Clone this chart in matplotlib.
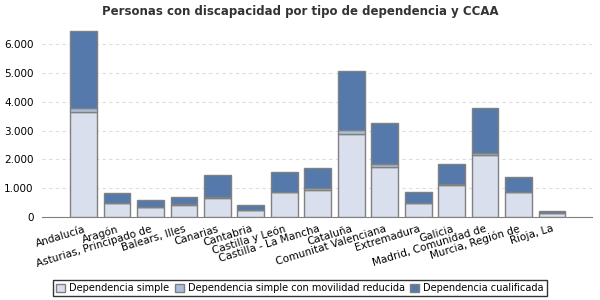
import numpy as np
import matplotlib.pyplot as plt
from matplotlib.ticker import FuncFormatter

ccaa = ["Andalucía", "Aragón", "Asturias, Principado de", "Balears, Illes",
        "Canarias", "Cantabria", "Castilla y León", "Castilla - La Mancha",
        "Cataluña", "Comunitat Valenciana", "Extremadura", "Galicia",
        "Madrid, Comunidad de", "Murcia, Región de", "Rioja, La"]
simple = [3660, 490, 350, 430, 670, 240, 850, 940, 2900, 1750, 475, 1110, 2140, 860, 120]
movilidad = [140, 10, 10, 10, 20, 10, 20, 70, 140, 90, 10, 20, 100, 15, 5]
cualificada = [2680, 315, 245, 235, 785, 147, 675, 675, 2020, 1410, 364, 694, 1533, 496, 63]

series = ["Dependencia simple", "Dependencia simple con movilidad reducida",
          "Dependencia cualificada"]
colores = ["#dadfee", "#a9bfdc", "#5579aa"]

fig = plt.figure(figsize=(6, 3), dpi=100)
ax = fig.add_axes([0.07, 0.277, 0.917, 0.64])

x = np.arange(len(ccaa))
bottom = np.zeros(len(ccaa))
for vals, nombre, c in zip([simple, movilidad, cualificada], series, colores):
    ax.bar(x, vals, 0.8, bottom=bottom, color=c, edgecolor="#808080",
           linewidth=1, label=nombre, zorder=3)
    bottom += np.array(vals)

ax.set_xlim(-1.24, len(ccaa) + 0.2)
ax.set_ylim(0, 6680)
ax.set_yticks(range(0, 7000, 1000))
ax.yaxis.set_major_formatter(FuncFormatter(lambda v, p: f"{int(v):,}".replace(",", ".")))
ax.grid(axis="y", color="#dddddd", linestyle=(0, (3, 3)), linewidth=0.8, zorder=0)
for s in ["top", "right", "left"]:
    ax.spines[s].set_visible(False)
ax.spines["bottom"].set_color("#808080")
ax.tick_params(axis="y", length=0, labelsize=7.5, pad=6)
ax.tick_params(axis="x", length=0, labelsize=7.5, pad=5)
ax.set_xticks(x)
ax.set_xticklabels(ccaa, rotation=17, ha="right", va="top", rotation_mode="anchor")

fig.suptitle("Personas con discapacidad por tipo de dependencia y CCAA",
             y=0.985, fontsize=8.5, fontweight="bold", color="#333333")

leg = fig.legend(loc="center", bbox_to_anchor=(0.5, 0.04), ncol=3, fontsize=7,
                 frameon=True, fancybox=False, edgecolor="black",
                 handlelength=0.9, handleheight=0.9, handletextpad=0.4,
                 columnspacing=0.6, borderpad=0.35)
leg.get_frame().set_linewidth(1)

plt.savefig("out.png")
